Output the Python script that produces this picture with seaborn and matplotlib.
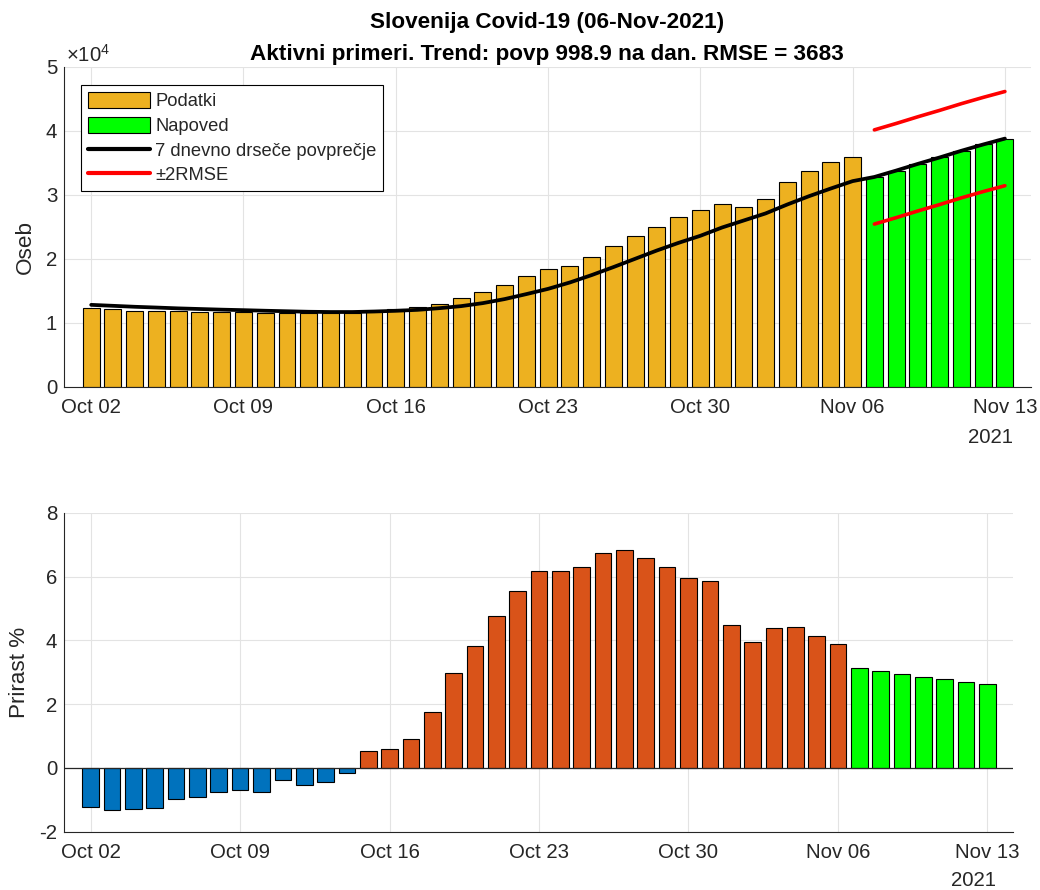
import numpy as np
import pandas as pd
import matplotlib
matplotlib.use("Agg")
import matplotlib.pyplot as plt
import seaborn as sns
from matplotlib.patches import Patch
from matplotlib.lines import Line2D

# active cases, Oct 02 - Nov 06 2021
podatki = [12330, 12180, 11870, 11870, 11870, 11760, 11700, 11700, 11600, 11600,
           11500, 11500, 11500, 11800, 12150, 12400, 12960, 13900, 14840, 15920,
           17350, 18470, 18920, 20220, 22050, 23620, 25030, 26600, 27700, 28600,
           28060, 29420, 32080, 33800, 35200, 36000]
# forecast Nov 07 - Nov 13
napoved = [32800, 33800, 34850, 35850, 36900, 37880, 38800]
# 7 day moving average, Oct 02 - Nov 06
ma7 = [12800, 12650, 12500, 12380, 12250, 12150, 12050, 11970, 11880, 11800,
       11720, 11680, 11680, 11760, 11870, 12020, 12280, 12600, 13070, 13700,
       14480, 15300, 16300, 17450, 18700, 20000, 21300, 22500, 23600, 24900,
       26000, 27100, 28500, 29800, 31000, 32150]
RMSE = 3683

# daily growth in %, Oct 02 - Nov 06, then forecast
prirast = [-1.22, -1.32, -1.29, -1.26, -0.98, -0.92, -0.76, -0.70, -0.76, -0.385,
           -0.54, -0.45, -0.17, 0.52, 0.59, 0.91, 1.75, 2.96, 3.83, 4.77,
           5.53, 6.16, 6.16, 6.31, 6.75, 6.84, 6.59, 6.31, 5.94, 5.85,
           4.48, 3.95, 4.38, 4.41, 4.13, 3.88]
prirast_napoved = [3.14, 3.05, 2.95, 2.86, 2.79, 2.70, 2.64]

dates = pd.date_range("2021-10-02", periods=len(podatki) + len(napoved))
day = np.arange(len(dates))
tick_days = list(range(0, len(dates), 7))
tick_labels = [dates[i].strftime("%b %d") for i in tick_days]

n = len(podatki)
top = pd.DataFrame({"day": day, "oseb": podatki + napoved,
                    "vrsta": ["Podatki"] * n + ["Napoved"] * len(napoved)})
bot = pd.DataFrame({"day": day, "prirast": prirast + prirast_napoved,
                    "vrsta": ["neg" if v < 0 else "pos" for v in prirast] + ["nap"] * len(prirast_napoved)})

sns.set_style("white")
plt.rcParams["font.family"] = ["Liberation Sans", "DejaVu Sans"]
plt.rcParams["mathtext.fontset"] = "custom"
plt.rcParams["mathtext.rm"] = "Liberation Sans"
plt.rcParams["axes.unicode_minus"] = False

TXT = "#262626"
GRID = "#e3e3e3"
W, H = 1040, 890

fig = plt.figure(figsize=(10.4, 8.9), dpi=100)
ax1 = fig.add_axes([64 / W, 1 - 386.7 / H, (1031 - 64) / W, (386.7 - 67) / H])
ax2 = fig.add_axes([64 / W, 1 - 831.7 / H, (1013 - 64) / W, (831.7 - 512.7) / H])

sns.barplot(data=top, x="day", y="oseb", hue="vrsta",
            palette={"Podatki": "#EDB120", "Napoved": "#00FF00"}, saturation=1,
            native_scale=True, dodge=False, width=0.78, errorbar=None,
            edgecolor="black", linewidth=0.8, legend=False, ax=ax1, zorder=2)
sns.lineplot(x=day, y=ma7 + napoved, color="black", linewidth=2.7, ax=ax1, zorder=3)
sns.lineplot(x=day[n:], y=np.array(napoved) + 2 * RMSE, color="red", linewidth=2.6, ax=ax1, zorder=3)
sns.lineplot(x=day[n:], y=np.array(napoved) - 2 * RMSE, color="red", linewidth=2.6, ax=ax1, zorder=3)

sns.barplot(data=bot, x="day", y="prirast", hue="vrsta",
            palette={"neg": "#0072BD", "pos": "#D95319", "nap": "#00FF00"}, saturation=1,
            native_scale=True, dodge=False, width=0.78, errorbar=None,
            edgecolor="black", linewidth=0.8, legend=False, ax=ax2, zorder=2)
ax2.axhline(0, color=TXT, linewidth=0.9, zorder=3)

for ax in (ax1, ax2):
    ax.set_xlim(-1.25, 43.2)
    ax.set_xticks(tick_days)
    ax.set_xticklabels(tick_labels)
    ax.set_xlabel("")
    ax.set_axisbelow(True)
    ax.grid(True, color=GRID, linewidth=0.8)
    ax.tick_params(direction="in", length=7, width=0.8, colors=TXT, labelsize=14.7)
    ax.tick_params(axis="x", pad=8)
    ax.tick_params(axis="y", pad=5)
    for s in ("top", "right"):
        ax.spines[s].set_visible(False)
    for s in ("left", "bottom"):
        ax.spines[s].set_color(TXT)
        ax.spines[s].set_linewidth(0.8)

ax1.set_ylim(0, 50000)
ax1.set_yticks([0, 10000, 20000, 30000, 40000, 50000])
ax1.set_yticklabels(["0", "1", "2", "3", "4", "5"])
ax1.set_ylabel("Oseb", fontsize=16.2, color=TXT)
ax1.yaxis.set_label_coords(-0.029, 0.437)
ax1.text(0.002, 1.0156, r"$\mathregular{\times10^{4}}$", transform=ax1.transAxes,
         fontsize=14.7, color=TXT, va="baseline", ha="left")
ax1.text(41.35, -0.129, "2021", transform=ax1.get_xaxis_transform(),
         fontsize=14.7, color=TXT, ha="center", va="top")

ax2.set_ylim(-2, 8)
ax2.set_yticks([-2, 0, 2, 4, 6, 8])
ax2.set_ylabel("Prirast %", fontsize=16.2, color=TXT)
ax2.yaxis.set_label_coords(-0.036, 0.5)
ax2.text(41.35, -0.1815, "2021", transform=ax2.get_xaxis_transform(),
         fontsize=14.7, color=TXT, ha="center", va="bottom")

handles = [Patch(facecolor="#EDB120", edgecolor="black", linewidth=0.8, label="Podatki"),
           Patch(facecolor="#00FF00", edgecolor="black", linewidth=0.8, label="Napoved"),
           Line2D([], [], color="black", linewidth=3, label="7 dnevno drseče povprečje"),
           Line2D([], [], color="red", linewidth=3, label="±2RMSE")]
leg = ax1.legend(handles=handles, loc="upper left", bbox_to_anchor=(0.0176, 0.9437),
                 borderaxespad=0, fontsize=13.2, frameon=True, fancybox=False,
                 framealpha=1, edgecolor="black", borderpad=0.38, handlelength=3.4,
                 handleheight=0.97, handletextpad=0.26, labelspacing=0.35)
leg.get_frame().set_linewidth(0.8)

fig.text(547 / W, 1 - 28.3 / H, "Slovenija Covid-19 (06-Nov-2021)",
         fontsize=16.2, fontweight="bold", ha="center", va="baseline", color="black")
fig.text(547 / W, 1 - 60 / H, "Aktivni primeri. Trend: povp 998.9 na dan. RMSE = 3683",
         fontsize=16.2, fontweight="bold", ha="center", va="baseline", color="black")

fig.savefig("out.png", dpi=100)
